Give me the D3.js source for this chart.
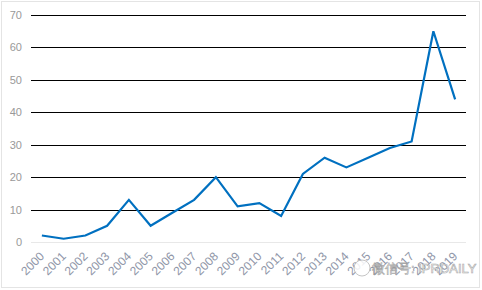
<!DOCTYPE html>
<html>
<head>
<meta charset="utf-8">
<script src="https://cdn.jsdelivr.net/npm/d3@7"></script>
<style>
  body { margin: 0; background: #fff; }
  svg text { font-family: "Liberation Sans", Arial, sans-serif; }
</style>
</head>
<body>
<div id="chart"></div>
<script>
var years = ["2000","2001","2002","2003","2004","2005","2006","2007","2008","2009",
             "2010","2011","2012","2013","2014","2015","2016","2017","2018","2019"];
var counts = [2, 1, 2, 5, 13, 5, 9, 13, 20, 11, 12, 8, 21, 26, 23, 26, 29, 31, 65, 44];
var yTicks = [0, 10, 20, 30, 40, 50, 60, 70];

var W = 482, H = 290;
var marg = { top: 15, right: 16, bot: 48, left: 31 };

var svg = d3.select("#chart").append("svg")
  .attr("width", W).attr("height", H);

// chart frame
svg.append("rect")
  .attr("x", 1.5).attr("y", 1.5)
  .attr("width", W - 4).attr("height", H - 4)
  .attr("fill", "#fff").attr("stroke", "#e4e4e4");

var x = d3.scaleBand().domain(years).range([marg.left, W - marg.right]);
var y = d3.scaleLinear().domain([0, 70]).range([H - marg.bot, marg.top]);

// gridlines
svg.append("g").selectAll("line")
  .data(yTicks)
  .enter().append("line")
  .attr("x1", marg.left).attr("x2", W - marg.right)
  .attr("y1", d => Math.round(y(d)) + 0.5).attr("y2", d => Math.round(y(d)) + 0.5)
  .attr("stroke", d => d == 0 ? "#e8e8e8" : "#000")
  .attr("stroke-width", 1.2);

// y labels
svg.append("g").selectAll("text")
  .data(yTicks)
  .enter().append("text")
  .attr("x", 22).attr("y", d => y(d) + 4)
  .attr("text-anchor", "end")
  .attr("font-size", 11)
  .attr("fill", "#999")
  .text(d => d);

// x labels rotated
svg.append("g").selectAll("text")
  .data(years)
  .enter().append("text")
  .attr("transform", d => "translate(" + (x(d) + x.bandwidth() / 2 + 3) + "," + (y(0) + 15) + ") rotate(-45)")
  .attr("text-anchor", "end")
  .attr("font-size", 12)
  .attr("fill", "#8f96a8")
  .text(d => d);

// line
var line = d3.line()
  .x((d, i) => x(years[i]) + x.bandwidth() / 2)
  .y(d => y(d));

svg.append("path")
  .datum(counts)
  .attr("d", line)
  .attr("fill", "none")
  .attr("stroke", "#0070c0")
  .attr("stroke-width", 2.2)
  .attr("stroke-linejoin", "miter");

// watermark
var wm = svg.append("g").attr("opacity", 0.85);
wm.append("circle").attr("cx", 362).attr("cy", 268).attr("r", 8)
  .attr("fill", "#fff").attr("stroke", "#bbb");
wm.append("text").attr("x", 372).attr("y", 273)
  .attr("font-size", 13).attr("fill", "#fff")
  .attr("stroke", "#999").attr("stroke-width", 0.6)
  .attr("font-family", "Noto Sans CJK SC, sans-serif")
  .text("微信号: IPRDAILY");
</script>
</body>
</html>
